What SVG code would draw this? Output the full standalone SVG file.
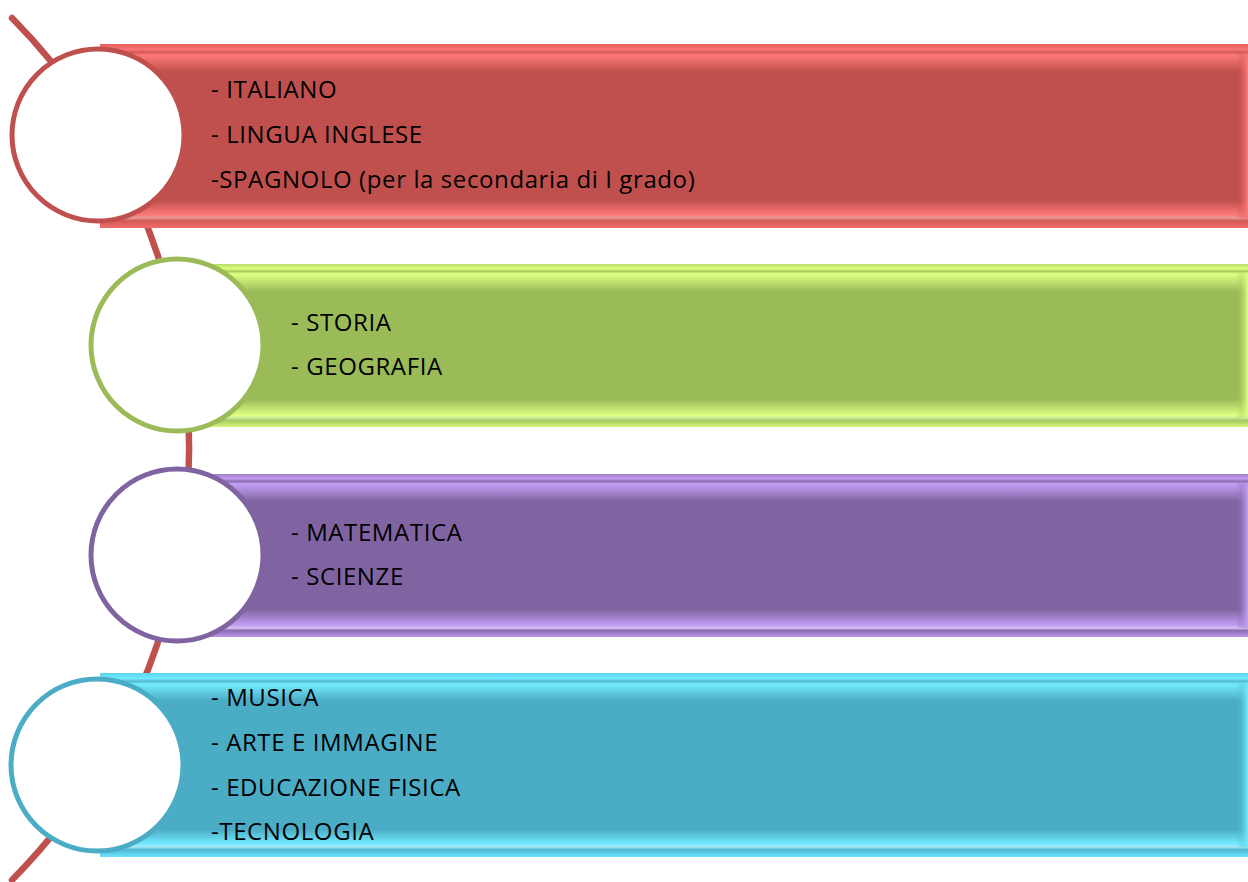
<svg xmlns="http://www.w3.org/2000/svg" width="1248" height="882" viewBox="0 0 1248 882">
<style>
.t{font-family:"Open Sans","Liberation Sans",sans-serif;font-size:24px;letter-spacing:0.6px;fill:#000}
.c{fill:#fff;stroke-width:5}
.arc{fill:none;stroke:#c0504d;stroke-width:6.5;stroke-linecap:round}
</style>
<defs>
<linearGradient id="gR" x1="0" y1="0" x2="0" y2="1">
<stop offset="0" stop-color="#e8605d"/><stop offset="0.03" stop-color="#f77572"/><stop offset="0.045" stop-color="#d25a57"/><stop offset="0.06" stop-color="#ff7a76"/><stop offset="0.15" stop-color="#c0504d"/><stop offset="0.85" stop-color="#c0504d"/><stop offset="0.93" stop-color="#ff7a76"/><stop offset="0.945" stop-color="#e89a98"/><stop offset="0.96" stop-color="#d25a57"/><stop offset="1" stop-color="#f26c69"/>
</linearGradient>
<linearGradient id="gG" x1="0" y1="0" x2="0" y2="1">
<stop offset="0" stop-color="#b8dc6a"/><stop offset="0.03" stop-color="#dcff80"/><stop offset="0.045" stop-color="#a8c860"/><stop offset="0.06" stop-color="#e0ff84"/><stop offset="0.17" stop-color="#9bbb59"/><stop offset="0.83" stop-color="#9bbb59"/><stop offset="0.93" stop-color="#e0ff84"/><stop offset="0.945" stop-color="#c8e8a0"/><stop offset="0.96" stop-color="#a8c860"/><stop offset="1" stop-color="#d4f87c"/>
</linearGradient>
<linearGradient id="gP" x1="0" y1="0" x2="0" y2="1">
<stop offset="0" stop-color="#a07cc8"/><stop offset="0.03" stop-color="#c29cf0"/><stop offset="0.045" stop-color="#8c6cb0"/><stop offset="0.06" stop-color="#c4a0f4"/><stop offset="0.17" stop-color="#8064a2"/><stop offset="0.83" stop-color="#8064a2"/><stop offset="0.93" stop-color="#c4a0f4"/><stop offset="0.945" stop-color="#d8c4f0"/><stop offset="0.96" stop-color="#8c6cb0"/><stop offset="1" stop-color="#bc98ea"/>
</linearGradient>
<linearGradient id="gB" x1="0" y1="0" x2="0" y2="1">
<stop offset="0" stop-color="#5cd4ef"/><stop offset="0.03" stop-color="#70eaff"/><stop offset="0.045" stop-color="#52b8d4"/><stop offset="0.06" stop-color="#74ecff"/><stop offset="0.15" stop-color="#4bacc6"/><stop offset="0.85" stop-color="#4bacc6"/><stop offset="0.93" stop-color="#74ecff"/><stop offset="0.945" stop-color="#a8e8f4"/><stop offset="0.96" stop-color="#52b8d4"/><stop offset="1" stop-color="#6ae4fc"/>
</linearGradient>
<linearGradient id="edgeR" x1="0" y1="0" x2="1" y2="0"><stop offset="0" stop-color="#c0504d" stop-opacity="0"/><stop offset="1" stop-color="#ff7a76"/></linearGradient>
<linearGradient id="edgeG" x1="0" y1="0" x2="1" y2="0"><stop offset="0" stop-color="#9bbb59" stop-opacity="0"/><stop offset="1" stop-color="#e0ff84"/></linearGradient>
<linearGradient id="edgeP" x1="0" y1="0" x2="1" y2="0"><stop offset="0" stop-color="#8064a2" stop-opacity="0"/><stop offset="1" stop-color="#c4a0f4"/></linearGradient>
<linearGradient id="edgeB" x1="0" y1="0" x2="1" y2="0"><stop offset="0" stop-color="#4bacc6" stop-opacity="0"/><stop offset="1" stop-color="#74ecff"/></linearGradient>
</defs>
<g id="connectors">
<path class="arc" d="M 12 18 A 613 613 0 0 1 12 880"/>
</g>
<g id="node-1">
<rect x="100" y="44" width="1150" height="184" fill="url(#gR)"/>
<rect x="1236" y="54" width="12" height="164" fill="url(#edgeR)"/>
<circle class="c" cx="98" cy="135" r="86" stroke="#c0504d"/>
<text class="t" x="211" y="98">- ITALIANO</text>
<text class="t" x="211" y="143">- LINGUA INGLESE</text>
<text class="t" x="211" y="188">-SPAGNOLO (per la secondaria di I grado)</text>
</g>
<g id="node-2">
<rect x="180" y="264" width="1070" height="163" fill="url(#gG)"/>
<rect x="1236" y="273" width="12" height="145" fill="url(#edgeG)"/>
<circle class="c" cx="177" cy="345" r="86" stroke="#9bbb59"/>
<text class="t" x="291" y="331">- STORIA</text>
<text class="t" x="291" y="375">- GEOGRAFIA</text>
</g>
<g id="node-3">
<rect x="180" y="474" width="1070" height="163" fill="url(#gP)"/>
<rect x="1236" y="483" width="12" height="145" fill="url(#edgeP)"/>
<circle class="c" cx="177" cy="555" r="86" stroke="#8064a2"/>
<text class="t" x="291" y="541">- MATEMATICA</text>
<text class="t" x="291" y="585">- SCIENZE</text>
</g>
<g id="node-4">
<rect x="100" y="673" width="1150" height="184" fill="url(#gB)"/>
<rect x="1236" y="683" width="12" height="164" fill="url(#edgeB)"/>
<circle class="c" cx="97" cy="765" r="86" stroke="#4bacc6"/>
<text class="t" x="211" y="706">- MUSICA</text>
<text class="t" x="211" y="751">- ARTE E IMMAGINE</text>
<text class="t" x="211" y="796">- EDUCAZIONE FISICA</text>
<text class="t" x="211" y="840">-TECNOLOGIA</text>
</g>
</svg>
